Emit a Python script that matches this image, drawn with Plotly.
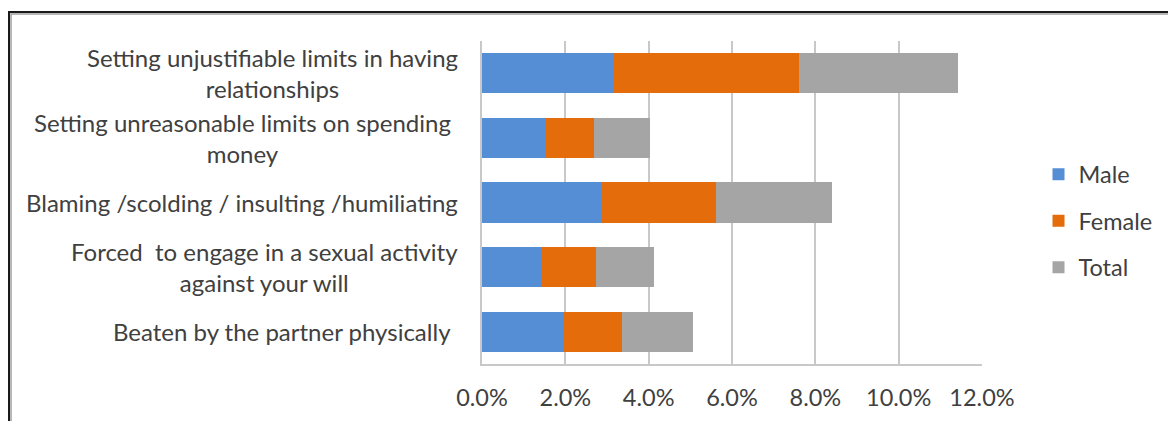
import plotly.graph_objects as go

# Forms of partner abuse reported, stacked by respondent group (percent)
categories = [
    "Setting unjustifiable limits in having<br>relationships",
    "Setting unreasonable limits on spending<br>money",
    "Blaming /scolding / insulting /humiliating",
    "Forced  to engage in a sexual activity<br>against your will",
    "Beaten by the partner physically",
]
male = [3.17, 1.54, 2.88, 1.42, 1.96]
female = [4.43, 1.14, 2.74, 1.32, 1.39]
total = [3.82, 1.35, 2.79, 1.39, 1.72]

series_names = ["Male", "Female", "Total"]
series_colors = ["#558ED5", "#E46C0A", "#A5A5A5"]

FONT = "Lato, 'Noto Sans', sans-serif"
TEXT_COLOR = "#404040"

ykeys = [f"c{i}" for i in range(len(categories))]

fig = go.Figure()
for name, vals, col in zip(series_names, [male, female, total], series_colors):
    fig.add_trace(go.Bar(
        y=ykeys, x=vals, name=name, orientation="h",
        marker=dict(color=col, line=dict(width=0)),
        legendgroup=name,
    ))

# Category labels, right-aligned block with centred lines
# (two labels carry a trailing space in the source, nudging them left)
label_offsets = [-22, -29, -22, -22, -29]
for key, label, dx in zip(ykeys, categories, label_offsets):
    fig.add_annotation(
        x=0, xref="paper", y=key, yref="y",
        xanchor="right", yanchor="middle", align="center",
        xshift=dx, text=label, showarrow=False,
        font=dict(family=FONT, size=24, color=TEXT_COLOR),
    )

# Outer chart frame with a soft shadow line
fig.add_shape(type="rect", xref="paper", yref="paper",
              x0=-0.942, x1=1.5, y0=-0.5, y1=1.0835,
              line=dict(color="#A0A0A0", width=1.5), layer="below")
fig.add_shape(type="rect", xref="paper", yref="paper",
              x0=-0.946, x1=1.5, y0=-0.5, y1=1.0898,
              line=dict(color="#1A1A1A", width=2), layer="below")

fig.update_layout(
    width=1168, height=421,
    margin=dict(l=482, r=186, t=41, b=57, autoexpand=False),
    barmode="stack", bargap=0.38,
    plot_bgcolor="white", paper_bgcolor="white",
    font=dict(family=FONT, size=23.5, color=TEXT_COLOR),
    showlegend=True,
    legend=dict(
        x=1.113, xanchor="left", y=0.655, yanchor="top",
        font=dict(family=FONT, size=23.5, color=TEXT_COLOR),
        traceorder="grouped", tracegroupgap=13,
        itemwidth=30, bgcolor="rgba(0,0,0,0)",
    ),
    xaxis=dict(
        range=[0, 12], dtick=2, tick0=0,
        tickformat=".1f", ticksuffix="%",
        showgrid=True, gridcolor="#C8C8C8", gridwidth=2,
        zeroline=False, showline=True, linecolor="#C8C8C8", linewidth=2,
        mirror=False, ticks="", ticklabelstandoff=12,
        tickfont=dict(family=FONT, size=23.5, color=TEXT_COLOR),
        fixedrange=True,
    ),
    yaxis=dict(
        autorange="reversed", showticklabels=False, showgrid=False,
        zeroline=False, showline=True, linecolor="#C8C8C8", linewidth=2,
        ticks="", fixedrange=True,
    ),
)

fig.write_html("out.html")
